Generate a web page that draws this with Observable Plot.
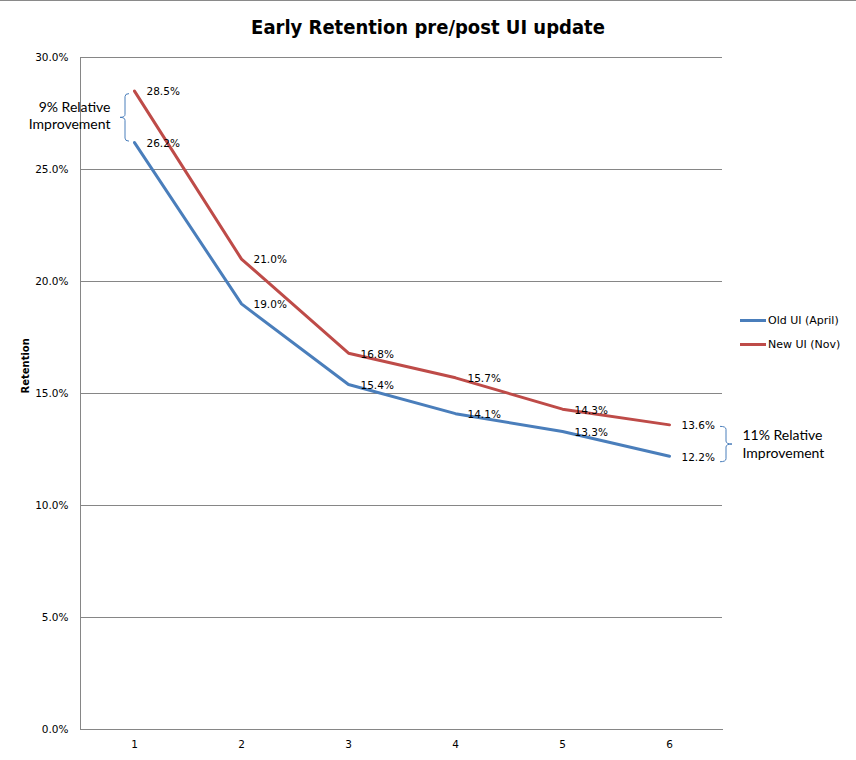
<!DOCTYPE html>
<html>
<head>
<meta charset="utf-8">
<script src="https://cdn.jsdelivr.net/npm/d3@7"></script>
<script src="https://cdn.jsdelivr.net/npm/@observablehq/plot@0.6"></script>
<style>
  body { margin: 0; background: #fff; }
  #wrap { position: relative; width: 856px; height: 760px; border-top: 1px solid #8a8a8a; box-sizing: border-box; overflow: hidden; }
  #title { height: 44px; line-height: 52px; text-align: center; font-family: "Liberation Sans Narrow", "DejaVu Sans Condensed", "Liberation Sans", sans-serif; font-weight: bold; font-size: 20px; color: #000; font-stretch: condensed; }
  #legend { position: absolute; left: 740px; top: 313px; font-family: "DejaVu Sans", sans-serif; font-size: 11px; color: #000; }
  #legend .item { display: flex; align-items: center; height: 13px; margin-bottom: 11px; }
  #legend .sw { width: 26px; height: 3px; margin-right: 2px; }
</style>
</head>
<body>
<div id="wrap">
  <div id="title">Early Retention pre/post UI update</div>
  <div id="chart"></div>
  <div id="legend"></div>
</div>
<script>
// ---- data ----
const periods = [1, 2, 3, 4, 5, 6];
const seriesNames = ["Old UI (April)", "New UI (Nov)"];
const oldUI = [26.2, 19.0, 15.4, 14.1, 13.3, 12.2];
const newUI = [28.5, 21.0, 16.8, 15.7, 14.3, 13.6];
const yTicks = [0, 5, 10, 15, 20, 25, 30];
const seriesColors = ["#4A7EBB", "#BE4B48"];
const annotations = [
  { period: 1, top: 28.5, bottom: 26.2, text: "9% Relative\nImprovement", side: "left" },
  { period: 6, top: 13.6, bottom: 12.2, text: "11% Relative\nImprovement", side: "right" }
];

// tidy table
const rows = [];
[oldUI, newUI].forEach((vals, si) => {
  vals.forEach((v, i) => rows.push({ period: periods[i], value: v, series: seriesNames[si] }));
});

const fmt = v => v.toFixed(1) + "%";

function bracketMark(index, scales) {
  const X = scales.x, Y = scales.y;
  const g = d3.create("svg:g").attr("fill", "none").attr("stroke", "#4A7EBB").attr("stroke-width", 1);
  for (const a of annotations) {
    let x, h, n, t, b;
    if (a.side === "left") {
      x = X(a.period) - 9; h = 4; n = -5;
      t = Y(a.top) + 3; b = Y(a.bottom) - 1;
    } else {
      x = X(a.period) + 57; h = -6; n = 6;
      t = Y(a.top) + 2; b = Y(a.bottom) + 6;
    }
    const m = (t + b) / 2, r = 3;
    const d = `M${x + h},${t} Q${x},${t} ${x},${t + r} L${x},${m - r} Q${x},${m} ${x + n},${m} Q${x},${m} ${x},${m + r} L${x},${b - r} Q${x},${b} ${x + h},${b}`;
    g.append("path").attr("d", d);
  }
  return g.node();
}

const chart = Plot.plot({
  width: 856,
  height: 715,
  marginTop: 12,
  marginBottom: 31,
  marginLeft: 80,
  marginRight: 134,
  style: { fontFamily: "'DejaVu Sans', sans-serif", fontSize: "10px", color: "#000", background: "#fff" },
  x: { type: "point", domain: periods, padding: 0.5, label: null },
  y: { domain: [0, 30], label: null },
  color: { domain: seriesNames, range: seriesColors },
  marks: [
    Plot.gridY(yTicks, { stroke: "#868686", strokeOpacity: 1 }),
    Plot.frame({ anchor: "left", stroke: "#868686" }),
    Plot.frame({ anchor: "bottom", stroke: "#868686" }),
    Plot.axisY(yTicks, { tickSize: 0, tickPadding: 12, tickFormat: fmt, label: null, fontSize: 10.5 }),
    Plot.axisX(periods, { tickSize: 0, tickPadding: 11, label: null, fontSize: 10.5 }),
    Plot.text(["Retention"], { frameAnchor: "left", dx: -55, rotate: -90, fontWeight: "bold", fontSize: 10 }),
    Plot.line(rows, { x: "period", y: "value", z: "series", stroke: "series", strokeWidth: 3, strokeLinejoin: "miter" }),
    Plot.text(rows, { x: "period", y: "value", text: d => fmt(d.value), dx: 12, dy: 1, textAnchor: "start", fontSize: 10.5, fill: "#000" }),
    bracketMark,
    Plot.text(annotations.filter(a => a.side === "left"), { x: "period", y: d => (d.top + d.bottom) / 2, text: "text", textAnchor: "end", dx: -24, dy: -2, lineHeight: 1.25, fontSize: 14, fontFamily: "Lato, 'Open Sans', sans-serif", fill: "#000" }),
    Plot.text(annotations.filter(a => a.side === "right"), { x: "period", y: d => (d.top + d.bottom) / 2, text: "text", textAnchor: "start", dx: 73, dy: 3, lineHeight: 1.25, fontSize: 14, fontFamily: "Lato, 'Open Sans', sans-serif", fill: "#000" })
  ]
});
document.getElementById("chart").appendChild(chart);

const legend = document.getElementById("legend");
seriesNames.forEach((name, i) => {
  const item = document.createElement("div");
  item.className = "item";
  const sw = document.createElement("span");
  sw.className = "sw";
  sw.style.background = seriesColors[i];
  const lab = document.createElement("span");
  lab.textContent = name;
  item.appendChild(sw); item.appendChild(lab);
  legend.appendChild(item);
});
</script>
</body>
</html>
